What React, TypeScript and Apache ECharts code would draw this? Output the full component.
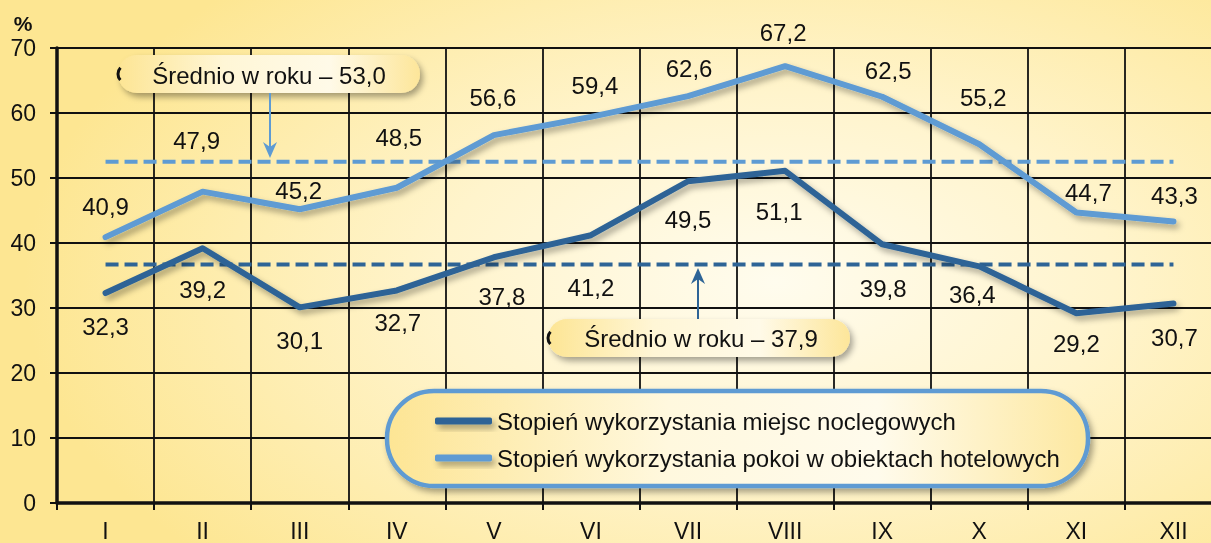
import React, { useEffect, useRef } from 'react';
import * as echarts from 'echarts';

// ---- data ----
const months = ['I', 'II', 'III', 'IV', 'V', 'VI', 'VII', 'VIII', 'IX', 'X', 'XI', 'XII'];
const bedsName = 'Stopień wykorzystania miejsc noclegowych';
const roomsName = 'Stopień wykorzystania pokoi w obiektach hotelowych';
const beds = [32.3, 39.2, 30.1, 32.7, 37.8, 41.2, 49.5, 51.1, 39.8, 36.4, 29.2, 30.7];
const rooms = [40.9, 47.9, 45.2, 48.5, 56.6, 59.4, 62.6, 67.2, 62.5, 55.2, 44.7, 43.3];
// dashed average lines, at the level where they are drawn in the picture (from I to XII)
const bedsAvgLine = [36.7, null, null, null, null, null, null, null, null, null, null, 36.7];
const roomsAvgLine = [52.5, null, null, null, null, null, null, null, null, null, null, 52.5];
const bedsAvgText = 'Średnio w roku – 37,9';
const roomsAvgText = 'Średnio w roku – 53,0';
const yMin = 0;
const yMax = 70;
const yStep = 10;

// label placement offsets (px) relative to each point
const bedsLabelDx = [0, 0, 0, 1, 8, 0, 0, -6, 1, -7, 0, 1];
const bedsLabelDy = [33, 41, 33, 32, 39, 52, 38, 41, 44, 28, 30, 34];
const roomsLabelDx = [0, -6, -1, 2, -1, 4, 1, -2, 6, 4, 12, 1];
const roomsLabelDy = [-31, -51, -19, -50, -38, -31, -28, -34, -26, -47, -20, -26];

const DARK = '#2e6496';
const LIGHT = '#5e9bd3';
const FONT = "'Liberation Sans', Arial, sans-serif";

const fmt = (v: number) => v.toFixed(1).replace('.', ',');

const pillFill = () =>
  new echarts.graphic.LinearGradient(0, 0, 1, 0, [
    { offset: 0, color: '#fde594' },
    { offset: 0.35, color: '#fff6d6' },
    { offset: 0.7, color: '#fffae8' },
    { offset: 1, color: '#fde69a' },
  ]);

const shadow = {
  shadowBlur: 6,
  shadowColor: 'rgba(0,0,0,0.35)',
  shadowOffsetX: 3,
  shadowOffsetY: 4,
};

export default function App() {
  const ref = useRef<HTMLDivElement>(null);

  useEffect(() => {
    if (!ref.current) return;
    const chart = echarts.init(ref.current, null, { renderer: 'svg' });

    const lineShadow = {
      shadowBlur: 6,
      shadowColor: 'rgba(0,0,0,0.35)',
      shadowOffsetX: 3,
      shadowOffsetY: 4,
    };

    const labelBase = {
      show: true,
      position: 'inside',
      fontSize: 24,
      fontFamily: FONT,
      color: '#111',
      formatter: (p: any) => fmt(p.value),
    };

    // horizontal lines get no shadow filter (a zero-height box would hide them in SVG)
    const avgSeries = (name: string, data: (number | null)[], color: string) => ({
      type: 'line',
      name,
      data,
      connectNulls: true,
      symbol: 'none',
      showSymbol: false,
      silent: true,
      label: { show: false },
      color,
      lineStyle: { color, width: 4, type: [13, 6] },
      z: 2,
    });

    const option: any = {
      animation: false,
      backgroundColor: 'transparent',
      grid: {
        left: 57,
        top: 48,
        width: 1165,
        height: 455,
        containLabel: false,
        outerBoundsMode: 'none',
      },
      legend: {
        orient: 'vertical',
        left: 430,
        top: 404,
        itemWidth: 57,
        itemHeight: 7,
        itemGap: 13,
        selectedMode: false,
        data: [
          { name: bedsName, icon: 'roundRect', itemStyle: { color: DARK, ...lineShadow } },
          { name: roomsName, icon: 'roundRect', itemStyle: { color: LIGHT, ...lineShadow } },
        ],
        textStyle: { fontSize: 24, fontFamily: FONT, color: '#111', lineHeight: 24 },
        z: 6,
      },
      xAxis: {
        type: 'category',
        data: months,
        boundaryGap: true,
        axisLine: { show: true, lineStyle: { color: '#111', width: 3.5 } },
        axisTick: { show: true, interval: 0, length: 7, lineStyle: { color: '#111', width: 2 } },
        axisLabel: { fontSize: 23, fontFamily: FONT, color: '#111', margin: 16, interval: 0 },
        splitLine: { show: true, interval: 0, lineStyle: { color: '#111', width: 1.8 } },
      },
      yAxis: {
        type: 'value',
        min: yMin,
        max: yMax,
        interval: yStep,
        axisLine: { show: true, lineStyle: { color: '#111', width: 3.5 } },
        axisTick: { show: true, length: 7, lineStyle: { color: '#111', width: 2 } },
        axisLabel: { fontSize: 23, fontFamily: FONT, color: '#111', margin: 21 },
        splitLine: { show: true, lineStyle: { color: '#111', width: 1.8 } },
      },
      series: [
        avgSeries('avg-beds', bedsAvgLine, DARK),
        avgSeries('avg-rooms', roomsAvgLine, LIGHT),
        {
          type: 'line',
          name: bedsName,
          color: DARK,
          data: beds.map((v, i) => ({
            value: v,
            label: { offset: [bedsLabelDx[i], bedsLabelDy[i]] },
          })),
          symbol: 'circle',
          symbolSize: 1,
          showSymbol: true,
          itemStyle: { color: DARK },
          lineStyle: { color: DARK, width: 6, cap: 'round', join: 'round', ...lineShadow },
          label: labelBase,
          z: 3,
        },
        {
          type: 'line',
          name: roomsName,
          color: LIGHT,
          data: rooms.map((v, i) => ({
            value: v,
            label: { offset: [roomsLabelDx[i], roomsLabelDy[i]] },
          })),
          symbol: 'circle',
          symbolSize: 1,
          showSymbol: true,
          itemStyle: { color: LIGHT },
          lineStyle: { color: LIGHT, width: 6, cap: 'round', join: 'round', ...lineShadow },
          label: labelBase,
          z: 3,
        },
      ],
      graphic: [
        {
          type: 'text',
          x: 23,
          y: 23,
          z: 5,
          style: {
            text: '%',
            font: `bold 21px ${FONT}`,
            fill: '#111',
            align: 'center',
            verticalAlign: 'middle',
          },
        },
        // annotation: rooms average
        {
          type: 'group',
          z: 5,
          children: [
            {
              type: 'rect',
              shape: { x: 118, y: 55, width: 302, height: 38, r: 19 },
              style: { fill: pillFill(), ...shadow },
              z: 5,
            },
            {
              type: 'arc',
              shape: { cx: 127, cy: 74, r: 9, startAngle: 2.4, endAngle: 3.9 },
              style: { stroke: '#111', lineWidth: 3, fill: 'none' },
              z: 6,
            },
            {
              type: 'text',
              x: 269,
              y: 75,
              z: 6,
              style: {
                text: roomsAvgText,
                font: `24px ${FONT}`,
                fill: '#111',
                align: 'center',
                verticalAlign: 'middle',
              },
            },
            {
              type: 'line',
              shape: { x1: 270, y1: 93, x2: 270, y2: 150 },
              style: { stroke: LIGHT, lineWidth: 2 },
              z: 6,
            },
            {
              type: 'polygon',
              shape: { points: [[270, 158], [263, 142], [270, 147], [277, 142]] },
              style: { fill: LIGHT },
              z: 6,
            },
          ],
        },
        // annotation: beds average
        {
          type: 'group',
          z: 5,
          children: [
            {
              type: 'rect',
              shape: { x: 548, y: 319, width: 302, height: 38, r: 19 },
              style: { fill: pillFill(), ...shadow },
              z: 5,
            },
            {
              type: 'arc',
              shape: { cx: 557, cy: 338, r: 9, startAngle: 2.4, endAngle: 3.9 },
              style: { stroke: '#111', lineWidth: 3, fill: 'none' },
              z: 6,
            },
            {
              type: 'text',
              x: 701,
              y: 338,
              z: 6,
              style: {
                text: bedsAvgText,
                font: `24px ${FONT}`,
                fill: '#111',
                align: 'center',
                verticalAlign: 'middle',
              },
            },
            {
              type: 'line',
              shape: { x1: 698, y1: 319, x2: 698, y2: 277 },
              style: { stroke: DARK, lineWidth: 2 },
              z: 6,
            },
            {
              type: 'polygon',
              shape: { points: [[698, 268], [691, 284], [698, 279], [705, 284]] },
              style: { fill: DARK },
              z: 6,
            },
          ],
        },
        // legend frame
        {
          type: 'rect',
          z: 4,
          shape: { x: 387, y: 391, width: 701, height: 95, r: 47 },
          style: {
            fill: new echarts.graphic.LinearGradient(0, 0, 1, 0, [
              { offset: 0, color: '#fde594' },
              { offset: 0.4, color: '#fff8de' },
              { offset: 0.7, color: '#fffbec' },
              { offset: 1, color: '#fde8a0' },
            ]),
            stroke: LIGHT,
            lineWidth: 4.5,
            ...shadow,
          },
        },
      ],
    };

    chart.setOption(option);
    return () => chart.dispose();
  }, []);

  return (
    <div
      style={{
        position: 'fixed',
        left: 0,
        top: 0,
        width: 1211,
        height: 543,
        overflow: 'hidden',
        background:
          'radial-gradient(ellipse 62% 78% at 64% 52%, #fffcee 0%, #fff4cc 45%, #fde692 100%)',
      }}
    >
      <div ref={ref} style={{ width: 1240, height: 543 }} />
    </div>
  );
}
